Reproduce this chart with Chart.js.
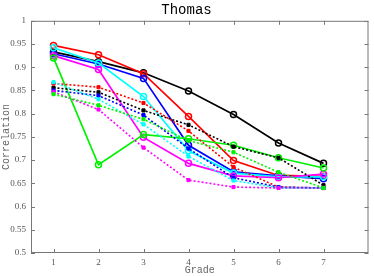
<!DOCTYPE html>
<html>
<head>
<meta charset="utf-8">
<script src="https://cdn.jsdelivr.net/npm/chart.js@4"></script>
<style>
html,body{margin:0;padding:0;background:#fff;}
#wrap{width:374px;height:276px;}
</style>
</head>
<body>
<div id="wrap"><canvas id="myChart" width="374" height="276"></canvas></div>
<script>
const grades=[1,2,3,4,5,6,7];
const yTicks=[0.5,0.55,0.6,0.65,0.7,0.75,0.8,0.85,0.9,0.95,1];

// solid lines (open circles)
const solidRed=[0.947,0.927,0.886,0.794,0.699,0.667,0.665];
const solidBlack=[0.933,0.912,0.888,0.849,0.798,0.737,0.693];
const solidBlue=[0.929,0.907,0.876,0.732,0.675,0.666,0.660];
const solidCyan=[0.942,0.909,0.837,0.720,0.672,0.664,0.664];
const solidMagenta=[0.925,0.895,0.749,0.693,0.666,0.662,0.670];
const solidGreen=[0.920,0.690,0.755,0.746,0.732,0.705,0.683];

// dotted lines (small squares)
const dotRed=[0.865,0.857,0.823,0.763,0.685,0.642,0.640];
const dotBlack=[0.856,0.846,0.807,0.776,0.729,0.705,0.646];
const dotBlue=[0.850,0.839,0.797,0.725,0.662,0.642,0.640];
const dotCyan=[0.868,0.831,0.777,0.708,0.656,0.640,0.640];
const dotMagenta=[0.847,0.809,0.727,0.657,0.642,0.640,0.640];
const dotGreen=[0.842,0.818,0.788,0.742,0.717,0.674,0.640];

function pts(arr){
    return grades.map((g,i)=>({x:g,y:arr[i]}));
}
function solid(data,color){
    return {data:pts(data),borderColor:color,backgroundColor:'rgba(0,0,0,0)',borderWidth:1.7,
        pointStyle:'circle',pointRadius:3,pointBorderWidth:1.5,pointBorderColor:color,pointBackgroundColor:'rgba(0,0,0,0)'};
}
function dotted(data,color){
    return {data:pts(data),borderColor:color,backgroundColor:color,borderWidth:1.6,borderDash:[2,2],
        pointStyle:'rect',pointRadius:2.2,pointBorderWidth:1,pointBorderColor:color,pointBackgroundColor:color};
}

const datasets=[
    dotted(dotGreen,'#00f000'),
    dotted(dotMagenta,'#ff00ff'),
    dotted(dotCyan,'#00ffff'),
    dotted(dotBlue,'#0000ff'),
    dotted(dotRed,'#ff0000'),
    dotted(dotBlack,'#000000'),
    solid(solidGreen,'#00f000'),
    solid(solidMagenta,'#ff00ff'),
    solid(solidCyan,'#00ffff'),
    solid(solidBlue,'#0000ff'),
    solid(solidRed,'#ff0000'),
    solid(solidBlack,'#000000')
];

// box around plot with inward ticks on all four sides
const boxTicks={
    id:'boxTicks',
    afterDraw(chart){
        const c=chart.ctx, a=chart.chartArea, xs=chart.scales.x, ys=chart.scales.y;
        c.save();
        c.strokeStyle='#777';
        c.lineWidth=1;
        c.strokeRect(a.left+0.5,a.top+0.5,a.right-a.left-1,a.bottom-a.top-1);
        c.beginPath();
        grades.forEach(g=>{
            const px=Math.round(xs.getPixelForValue(g))+0.5;
            c.moveTo(px,a.bottom);c.lineTo(px,a.bottom-4);
            c.moveTo(px,a.top);c.lineTo(px,a.top+4);
        });
        yTicks.forEach(v=>{
            const py=Math.round(ys.getPixelForValue(v))+0.5;
            c.moveTo(a.left,py);c.lineTo(a.left+4,py);
            c.moveTo(a.right,py);c.lineTo(a.right-4,py);
        });
        c.stroke();
        c.restore();
    }
};

const ctx=document.getElementById('myChart');
new Chart(ctx,{
    type:'line',
    data:{datasets:datasets},
    options:{
        responsive:false,
        animation:false,
        layout:{padding:{right:1,left:0,top:0,bottom:0}},
        plugins:{
            legend:{display:false},
            tooltip:{enabled:false},
            title:{display:true,text:'Thomas',color:'#000',
                font:{family:'Liberation Mono',size:14,weight:'normal'},padding:{top:2,bottom:2}}
        },
        scales:{
            x:{type:'linear',min:0.5,max:8,
                afterBuildTicks:s=>{s.ticks=grades.map(v=>({value:v}));},
                afterFit:s=>{s.height=23;},
                grid:{display:false,drawTicks:false},border:{display:false},
                ticks:{color:'#555',font:{family:'Liberation Serif',size:9},padding:4,maxRotation:0},
                title:{display:true,text:'Grade',color:'#666',font:{family:'Liberation Mono',size:10},padding:{top:0,bottom:0}}
            },
            y:{type:'linear',min:0.5,max:1,
                afterBuildTicks:s=>{s.ticks=yTicks.map(v=>({value:v}));},
                afterFit:s=>{s.width=31;},
                grid:{display:false,drawTicks:false},border:{display:false},
                ticks:{color:'#555',font:{family:'Liberation Serif',size:9},padding:5,
                    callback:v=>String(+v.toFixed(2))},
                title:{display:true,text:'Correlation',color:'#666',font:{family:'Liberation Mono',size:10},padding:{top:0,bottom:0}}
            }
        }
    },
    plugins:[boxTicks]
});
</script>
</body>
</html>
